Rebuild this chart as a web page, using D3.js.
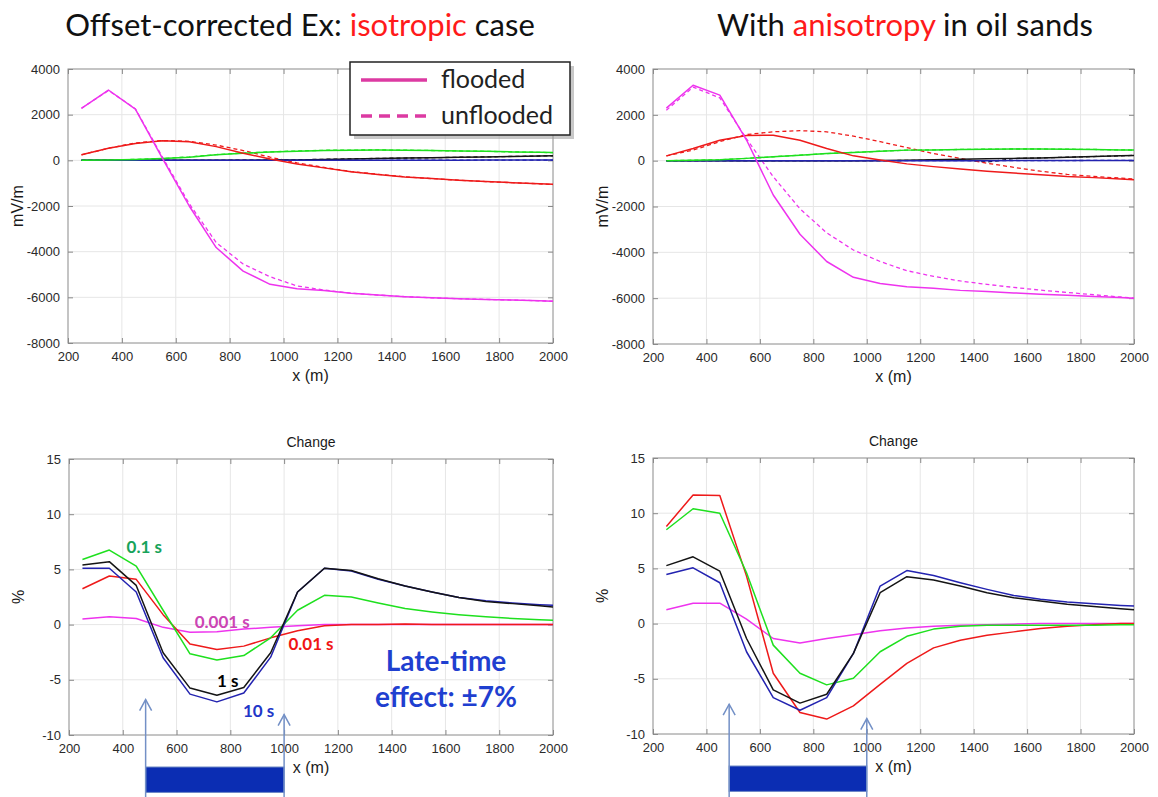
<!DOCTYPE html>
<html><head><meta charset="utf-8">
<script src="https://cdn.jsdelivr.net/npm/d3@7"></script>
<style>body{margin:0;background:#fff} svg{display:block}</style>
</head><body>
<svg id="c" width="1158" height="797"></svg>
<script>
// ---------- DATA ----------
const xPositions = [250,350,450,550,650,750,850,950,1050,1150,1250,1350,1450,1550,1650,1750,1850,1950,2000];
const xTicks = [200,400,600,800,1000,1200,1400,1600,1800,2000];
const xTickLabels = ["200","400","600","800","1000","1200","1400","1600","1800","2000"];
const fieldTicks = [-8000,-6000,-4000,-2000,0,2000,4000];
const fieldTickLabels = ["-8000","-6000","-4000","-2000","0","2000","4000"];
const changeTicks = [-10,-5,0,5,10,15];
const changeTickLabels = ["-10","-5","0","5","10","15"];
const timeLabels = ["0.001 s","0.01 s","0.1 s","1 s","10 s"];
const lineColors = ["#ee33ee","#ee1a1a","#1ee01e","#141414","#2323b0"];

// Isotropic, flooded (solid)
const isoFlood001 = [2280,3080,2240,100,-2000,-3820,-4850,-5430,-5620,-5700,-5820,-5900,-5970,-6020,-6060,-6090,-6120,-6150,-6170];
const isoFlood01  = [240,530,740,860,810,600,310,60,-160,-330,-500,-620,-730,-800,-870,-930,-980,-1030,-1050];
const isoFlood1   = [0,20,40,80,140,240,310,360,400,430,440,450,440,430,410,400,370,355,340];
const isoFlood10  = [0,0,0,0,0,0,5,10,20,40,60,80,100,110,130,150,170,190,200];
const isoFlood100 = [0,0,0,0,0,0,0,0,0,0,0,0,5,5,5,10,10,10,10];
// Isotropic, unflooded (dashed)
const isoUnfl001 = [2280,3060,2260,150,-1900,-3600,-4540,-5100,-5500,-5680,-5820,-5900,-5970,-6020,-6060,-6090,-6120,-6150,-6170];
const isoUnfl01  = [240,530,760,870,830,670,430,140,-110,-310,-490,-610,-720,-800,-870,-930,-980,-1030,-1060];
const isoUnfl1   = [0,20,40,80,150,250,320,370,410,440,450,455,445,430,410,395,370,350,335];
const isoUnfl10  = [0,0,0,0,0,0,5,10,25,45,65,85,100,115,135,150,170,190,200];
const isoUnfl100 = [0,0,0,0,0,0,0,0,0,0,0,0,5,5,5,10,10,10,10];

// Anisotropic, flooded (solid)
const anFlood001 = [2290,3290,2860,900,-1500,-3210,-4400,-5090,-5360,-5500,-5570,-5660,-5710,-5770,-5830,-5870,-5930,-5970,-6000];
const anFlood01  = [210,530,890,1100,1110,890,530,210,30,-140,-260,-360,-460,-540,-610,-690,-740,-800,-830];
const anFlood1   = [0,20,40,100,170,240,310,360,410,460,470,490,500,510,510,500,490,470,460];
const anFlood10  = [0,0,0,0,0,0,0,0,10,20,40,60,80,100,120,150,180,210,230];
const anFlood100 = [0,0,0,0,0,0,0,0,0,0,0,0,0,5,5,5,10,10,10];
// Anisotropic, unflooded (dashed)
const anUnfl001 = [2200,3210,2740,950,-700,-2100,-3150,-3900,-4400,-4800,-5050,-5250,-5400,-5530,-5650,-5750,-5850,-5950,-6000];
const anUnfl01  = [210,460,830,1140,1260,1310,1260,1070,830,570,310,100,-110,-290,-460,-600,-690,-760,-800];
const anUnfl1   = [0,20,40,100,170,240,310,360,410,460,470,490,500,510,510,500,490,470,460];
const anUnfl10  = [0,0,0,0,0,0,0,0,0,10,20,40,-60,90,120,150,180,210,230];
const anUnfl100 = [0,0,0,0,0,0,0,0,0,0,0,0,0,5,5,5,10,10,10];

// Change (%) isotropic
const isoChg001 = [0.5,0.7,0.55,-0.25,-0.7,-0.65,-0.4,-0.25,-0.1,0,0,0,0,0,0,0,0,0,0];
const isoChg01  = [3.25,4.4,4.1,0.9,-1.75,-2.25,-1.95,-1.2,-0.55,-0.1,0,0,0.05,0,0,0,0,0,0];
const isoChg1   = [5.9,6.75,5.3,1.3,-2.65,-3.2,-2.8,-1.2,1.3,2.65,2.5,1.95,1.45,1.15,0.9,0.7,0.55,0.45,0.4];
const isoChg10  = [5.4,5.7,3.55,-2.55,-5.75,-6.4,-5.7,-2.55,2.95,5.1,4.9,4.15,3.5,2.95,2.45,2.1,1.9,1.7,1.6];
const isoChg100 = [5.1,5.1,2.95,-3.0,-6.3,-7.0,-6.2,-2.95,2.95,5.1,4.85,4.1,3.5,2.95,2.45,2.15,1.95,1.8,1.75];
// Change (%) anisotropic
const anChg001 = [1.25,1.85,1.85,0.4,-1.35,-1.75,-1.35,-1.0,-0.65,-0.4,-0.25,-0.15,-0.1,-0.05,0,0,0,0,0];
const anChg01  = [8.8,11.65,11.6,4.3,-4.5,-8.05,-8.65,-7.45,-5.5,-3.6,-2.2,-1.5,-1.05,-0.75,-0.45,-0.25,-0.1,0,0];
const anChg1   = [8.5,10.4,10.0,4.6,-1.95,-4.5,-5.55,-4.95,-2.55,-1.15,-0.5,-0.25,-0.15,-0.15,-0.15,-0.15,-0.15,-0.1,-0.1];
const anChg10  = [5.25,6.05,4.75,-1.35,-6.0,-7.2,-6.4,-2.7,2.8,4.25,3.95,3.4,2.8,2.35,2.05,1.75,1.55,1.35,1.25];
const anChg100 = [4.45,5.05,3.7,-2.55,-6.7,-7.85,-6.7,-2.7,3.4,4.8,4.35,3.7,3.1,2.55,2.2,1.95,1.8,1.65,1.6];

// flooded zone markers (x in m), arrow tips (%), bar extent (%)
const zoneX = [485, 1000];
const isoArrowTips = [-6.8, -8.15];
const anArrowTips = [-7.3, -8.6];
const zoneBar = [-12.9, -15.2];

// labels on the isotropic change plot: [text, x, y, colour]
const isoChgLabels = [
  ["0.1 s", 480, 7.0, "#17a35a"],
  ["0.001 s", 770, 0.25, "#cc44b4"],
  ["0.01 s", 1100, -1.75, "#f01414"],
  ["1 s", 790, -5.1, "#000000"],
  ["10 s", 905, -7.8, "#2236c8"]
];
const lateTimeText = ["Late-time", "effect: \u00b17%"];
const lateTimePos = [[1602, -3.3], [1602, -6.56]];

// ---------- DRAW ----------
const svg = d3.select("#c");
const tickFont = "'Liberation Sans', Arial, sans-serif";
const calib = "Lato, 'Open Sans', sans-serif";

function makePlot(o) {
  const x = d3.scaleLinear().domain([200, 2000]).range([o.left, o.right]);
  const y = d3.scaleLinear().domain(o.yDomain).range([o.bottom, o.top]);
  const g = svg.append("g");
  g.append("g").selectAll("line").data(xTicks.slice(1, -1)).join("line")
    .attr("x1", d => x(d)).attr("x2", d => x(d)).attr("y1", o.top).attr("y2", o.bottom)
    .attr("stroke", "#e6e6e6").attr("stroke-width", 1);
  g.append("g").selectAll("line").data(o.yTicks.slice(1, -1)).join("line")
    .attr("y1", d => y(d)).attr("y2", d => y(d)).attr("x1", o.left).attr("x2", o.right)
    .attr("stroke", "#e6e6e6").attr("stroke-width", 1);
  const xb = d3.axisBottom(x).tickValues(xTicks).tickSize(-5).tickPadding(9)
    .tickFormat((d, i) => xTickLabels[i]);
  const yl = d3.axisLeft(y).tickValues(o.yTicks).tickSize(-5).tickPadding(8)
    .tickFormat((d, i) => o.yLabels[i]);
  const xt = d3.axisTop(x).tickValues(xTicks).tickSize(-5).tickFormat("");
  const yr = d3.axisRight(y).tickValues(o.yTicks).tickSize(-5).tickFormat("");
  const ax = [
    g.append("g").attr("transform", `translate(0,${o.bottom})`).call(xb),
    g.append("g").attr("transform", `translate(${o.left},0)`).call(yl),
    g.append("g").attr("transform", `translate(0,${o.top})`).call(xt),
    g.append("g").attr("transform", `translate(${o.right},0)`).call(yr)
  ];
  ax.forEach(a => {
    a.select(".domain").remove();
    a.selectAll(".tick line").attr("stroke", "#8a8a8a");
    a.selectAll("text").attr("font-family", tickFont).attr("font-size", 13).attr("fill", "#2a2a2a");
  });
  g.append("rect").attr("x", o.left).attr("y", o.top).attr("width", o.right - o.left)
    .attr("height", o.bottom - o.top).attr("fill", "none").attr("stroke", "#8a8a8a");
  const line = d3.line().x((d, i) => x(xPositions[i])).y(d => y(d));
  const clipId = "clip" + Math.round(o.left) + "_" + Math.round(o.top);
  svg.append("clipPath").attr("id", clipId).append("rect")
    .attr("x", o.left).attr("y", o.top).attr("width", o.right - o.left).attr("height", o.bottom - o.top);
  const lg = g.append("g").attr("clip-path", `url(#${clipId})`);
  o.series.forEach(s => {
    lg.append("path").datum(s.values).attr("d", line).attr("fill", "none")
      .attr("stroke", lineColors[s.c]).attr("stroke-width", s.w || 1.5)
      .attr("stroke-dasharray", s.dash ? "4,3" : null).attr("stroke-linejoin", "round");
  });
  g.append("text").attr("x", (o.left + o.right) / 2).attr("y", o.bottom + 38)
    .attr("text-anchor", "middle").attr("font-family", tickFont).attr("font-size", 16)
    .attr("fill", "#1a1a1a").text("x (m)");
  g.append("text").attr("transform", `translate(${o.left - 45},${(o.top + o.bottom) / 2}) rotate(-90)`)
    .attr("text-anchor", "middle").attr("font-family", tickFont).attr("font-size", 16)
    .attr("fill", "#1a1a1a").text(o.yTitle);
  if (o.title) {
    g.append("text").attr("x", (o.left + o.right) / 2).attr("y", o.top - 12)
      .attr("text-anchor", "middle").attr("font-family", tickFont).attr("font-size", 14)
      .attr("fill", "#1a1a1a").text(o.title);
  }
  return {x, y, g};
}

const topOrder = [3, 4, 2, 1, 0];
function fieldSeries(fl, un) {
  const out = [];
  topOrder.forEach(c => { out.push({values: un[c], c, dash: true, w: 1.3}); });
  topOrder.forEach(c => { out.push({values: fl[c], c, w: 1.5}); });
  return out;
}

const pTL = makePlot({left: 68, right: 553, top: 69, bottom: 343, yDomain: [-8000, 4000],
  yTicks: fieldTicks, yLabels: fieldTickLabels, yTitle: "mV/m",
  series: fieldSeries([isoFlood001, isoFlood01, isoFlood1, isoFlood10, isoFlood100],
                      [isoUnfl001, isoUnfl01, isoUnfl1, isoUnfl10, isoUnfl100])});
const pTR = makePlot({left: 653, right: 1134, top: 69, bottom: 344, yDomain: [-8000, 4000],
  yTicks: fieldTicks, yLabels: fieldTickLabels, yTitle: "mV/m",
  series: fieldSeries([anFlood001, anFlood01, anFlood1, anFlood10, anFlood100],
                      [anUnfl001, anUnfl01, anUnfl1, anUnfl10, anUnfl100])});

const chgOrder = [0, 1, 2, 4, 3];
const pBL = makePlot({left: 69, right: 553, top: 459, bottom: 735, yDomain: [-10, 15],
  yTicks: changeTicks, yLabels: changeTickLabels, yTitle: "%", title: "Change",
  series: chgOrder.map(c => ({values: [isoChg001, isoChg01, isoChg1, isoChg10, isoChg100][c], c}))});
const pBR = makePlot({left: 653, right: 1134, top: 458, bottom: 734, yDomain: [-10, 15],
  yTicks: changeTicks, yLabels: changeTickLabels, yTitle: "%", title: "Change",
  series: chgOrder.map(c => ({values: [anChg001, anChg01, anChg1, anChg10, anChg100][c], c}))});

function title(cx, parts) {
  const t = svg.append("text").attr("x", cx).attr("y", 36).attr("text-anchor", "middle")
    .attr("font-family", calib).attr("font-size", 31).attr("fill", "#111");
  parts.forEach(p => t.append("tspan").attr("fill", p[1]).text(p[0]));
}
title(300, [["Offset-corrected Ex: ", "#111"], ["isotropic", "#ff1a1a"], [" case", "#111"]]);
title(905, [["With ", "#111"], ["anisotropy", "#ff1a1a"], [" in oil sands", "#111"]]);

const lg = svg.append("g");
lg.append("rect").attr("x", 354).attr("y", 66).attr("width", 220).attr("height", 73).attr("fill", "#9a9a9a").attr("opacity", 0.55);
lg.append("rect").attr("x", 350).attr("y", 62).attr("width", 220).attr("height", 73).attr("fill", "#fff").attr("stroke", "#222").attr("stroke-width", 1.5);
[["flooded", null], ["unflooded", "11,7"]].forEach((d, i) => {
  const yy = 80 + i * 36;
  lg.append("line").attr("x1", 361).attr("x2", 427).attr("y1", yy).attr("y2", yy)
    .attr("stroke", "#dc3aa2").attr("stroke-width", 3.5).attr("stroke-dasharray", d[1]);
  lg.append("text").attr("x", 441).attr("y", yy + 8).attr("font-family", calib).attr("font-size", 25)
    .attr("fill", "#222").text(d[0]);
});

isoChgLabels.forEach(d => {
  svg.append("text").attr("x", pBL.x(d[1])).attr("y", pBL.y(d[2])).attr("dy", "0.35em")
    .attr("text-anchor", "middle").attr("font-family", calib).attr("font-weight", "bold")
    .attr("font-size", 17).attr("fill", d[3]).text(d[0]);
});
lateTimeText.forEach((t, i) => {
  svg.append("text").attr("x", pBL.x(lateTimePos[i][0])).attr("y", pBL.y(lateTimePos[i][1])).attr("dy", "0.35em")
    .attr("text-anchor", "middle").attr("font-family", calib).attr("font-weight", "bold")
    .attr("font-size", 28).attr("fill", "#1f3fd0").text(t);
});

function zone(p, tips) {
  const g = svg.append("g");
  g.append("rect").attr("x", p.x(zoneX[0])).attr("y", p.y(zoneBar[0]))
    .attr("width", p.x(zoneX[1]) - p.x(zoneX[0])).attr("height", p.y(zoneBar[1]) - p.y(zoneBar[0]))
    .attr("fill", "#0b2db3").attr("stroke", "#6a86c4").attr("stroke-width", 1);
  zoneX.forEach((xv, i) => {
    const xx = p.x(xv), ty = p.y(tips[i]);
    g.append("line").attr("x1", xx).attr("x2", xx).attr("y1", ty).attr("y2", 797)
      .attr("stroke", "#7390c6").attr("stroke-width", 1.5);
    g.append("path").attr("d", `M${xx - 6},${ty + 11}L${xx},${ty}L${xx + 6},${ty + 11}`)
      .attr("fill", "none").attr("stroke", "#7390c6").attr("stroke-width", 1.5);
  });
}
zone(pBL, isoArrowTips);
zone(pBR, anArrowTips);
</script>
</body></html>
